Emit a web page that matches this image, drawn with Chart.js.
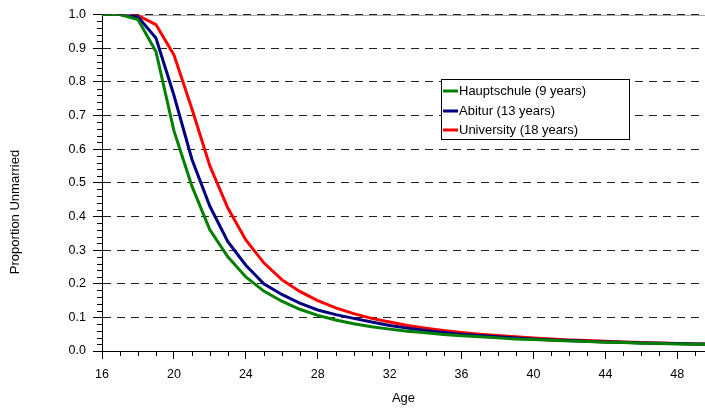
<!DOCTYPE html>
<html>
<head>
<meta charset="utf-8">
<script src="https://cdn.jsdelivr.net/npm/chart.js@4/dist/chart.umd.min.js"></script>
<style>
  html, body { margin: 0; padding: 0; background: #ffffff; }
  canvas { display: block; }
</style>
</head>
<body>
<canvas id="c" width="705" height="409"></canvas>
<script>
// ---- Data ----
const ages = [16,17,18,19,20,21,22,23,24,25,26,27,28,29,30,31,32,33,34,35,36,37,38,39,40,41,42,43,44,45,46,47,48,49,50];
const hauptschule = [1.0,1.0,0.985,0.89,0.655,0.49,0.36,0.28,0.22,0.178,0.148,0.124,0.106,0.092,0.081,0.072,0.065,0.059,0.054,0.049,0.045,0.042,0.039,0.036,0.034,0.032,0.030,0.028,0.026,0.025,0.023,0.022,0.021,0.020,0.019];
const abitur = [1.0,1.0,0.993,0.93,0.76,0.57,0.43,0.325,0.255,0.200,0.168,0.142,0.122,0.108,0.097,0.086,0.076,0.068,0.061,0.055,0.050,0.046,0.042,0.039,0.036,0.033,0.031,0.029,0.027,0.026,0.024,0.023,0.022,0.021,0.020];
const university = [1.0,1.0,0.997,0.97,0.88,0.72,0.55,0.425,0.33,0.262,0.212,0.177,0.150,0.128,0.111,0.097,0.086,0.076,0.068,0.061,0.055,0.050,0.046,0.042,0.039,0.036,0.033,0.031,0.029,0.027,0.025,0.024,0.022,0.021,0.020];
const seriesNames = ['Hauptschule (9 years)', 'Abitur (13 years)', 'University (18 years)'];
const seriesColors = ['#008000', '#000080', '#ff0000'];
const xTickValues = [16,20,24,28,32,36,40,44,48];
const yTickValues = [0.0,0.1,0.2,0.3,0.4,0.5,0.6,0.7,0.8,0.9,1.0];
const xTitle = 'Age';
const yTitle = 'Proportion Unmarried';

const FONT = '"Liberation Sans", Arial, sans-serif';

function toPoints(vals) { return ages.map((a, i) => ({x: a, y: vals[i]})); }

const extras = {
  id: 'extras',
  beforeDraw(chart) {
    const {ctx, chartArea} = chart;
    // light solid line under the top dashed gridline
    const y1 = chart.scales.y.getPixelForValue(1.0);
    ctx.save();
    ctx.strokeStyle = '#a8a8a8';
    ctx.lineWidth = 1;
    ctx.beginPath();
    ctx.moveTo(chartArea.left, Math.round(y1) + 0.5);
    ctx.lineTo(chartArea.right, Math.round(y1) + 0.5);
    ctx.stroke();
    ctx.restore();
  },
  afterDraw(chart) {
    const {ctx, chartArea} = chart;
    const xs = chart.scales.x, ys = chart.scales.y;
    ctx.save();
    ctx.strokeStyle = '#000';
    ctx.lineWidth = 1;
    // minor y ticks every 0.02
    for (let k = 0; k <= 50; k++) {
      if (k % 5 === 0) continue;
      const py = Math.round(ys.getPixelForValue(k / 50)) + 0.5;
      ctx.beginPath();
      ctx.moveTo(chartArea.left - 5, py);
      ctx.lineTo(chartArea.left, py);
      ctx.stroke();
    }
    // minor x ticks every year
    for (let a = 17; a <= 49; a++) {
      if (a % 4 === 0) continue;
      const px = Math.round(xs.getPixelForValue(a)) + 0.5;
      ctx.beginPath();
      ctx.moveTo(px, chartArea.bottom);
      ctx.lineTo(px, chartArea.bottom + 5);
      ctx.stroke();
    }
    // axis titles
    ctx.fillStyle = '#000';
    ctx.font = '13px ' + FONT;
    ctx.textAlign = 'center';
    ctx.textBaseline = 'middle';
    ctx.fillText(xTitle, (chartArea.left + chartArea.right) / 2, 398);
    ctx.save();
    ctx.translate(15, 212);
    ctx.rotate(-Math.PI / 2);
    ctx.fillText(yTitle, 0, 0);
    ctx.restore();
    // legend
    const bx = 441.5, by = 79.5, bw = 188, bh = 60;
    ctx.fillStyle = '#fff';
    ctx.fillRect(bx, by, bw, bh);
    ctx.strokeStyle = '#000';
    ctx.lineWidth = 1;
    ctx.strokeRect(bx, by, bw, bh);
    const rows = [91, 111, 130];
    ctx.textAlign = 'left';
    ctx.font = '13px ' + FONT;
    for (let i = 0; i < seriesNames.length; i++) {
      ctx.strokeStyle = seriesColors[i];
      ctx.lineWidth = 3;
      ctx.beginPath();
      ctx.moveTo(443, rows[i]);
      ctx.lineTo(458, rows[i]);
      ctx.stroke();
      ctx.fillStyle = '#000';
      ctx.fillText(seriesNames[i], 459, rows[i]);
    }
    ctx.restore();
  }
};

new Chart(document.getElementById('c'), {
  type: 'line',
  data: {
    datasets: [
      {label: seriesNames[0], data: toPoints(hauptschule), borderColor: seriesColors[0], borderWidth: 3, pointRadius: 0, fill: false, tension: 0},
      {label: seriesNames[1], data: toPoints(abitur), borderColor: seriesColors[1], borderWidth: 3, pointRadius: 0, fill: false, tension: 0},
      {label: seriesNames[2], data: toPoints(university), borderColor: seriesColors[2], borderWidth: 3, pointRadius: 0, fill: false, tension: 0}
    ]
  },
  options: {
    responsive: false,
    animation: false,
    devicePixelRatio: 1,
    layout: {padding: {top: 14, left: 0, right: 0, bottom: 0}},
    plugins: {legend: {display: false}, tooltip: {enabled: false}, title: {display: false}},
    scales: {
      x: {
        type: 'linear',
        min: 16,
        max: 49.54,
        afterFit(s) { s.height = 58; },
        afterBuildTicks(s) { s.ticks = xTickValues.map(v => ({value: v})); },
        ticks: {
          includeBounds: false,
          autoSkip: false,
          maxRotation: 0,
          padding: 8,
          color: '#000',
          font: {family: FONT, size: 12.5},
          callback: (v) => String(v)
        },
        grid: {drawOnChartArea: false, drawTicks: true, tickLength: 8, color: '#000', tickColor: '#000'},
        border: {display: true, color: '#000', width: 1}
      },
      y: {
        type: 'linear',
        min: 0,
        max: 1,
        afterFit(s) { s.width = 102; },
        afterBuildTicks(s) { s.ticks = yTickValues.map(v => ({value: v})); },
        ticks: {
          autoSkip: false,
          padding: 7,
          color: '#000',
          font: {family: FONT, size: 12.5},
          callback: (v) => Number(v).toFixed(1)
        },
        grid: {drawOnChartArea: true, drawTicks: true, tickLength: 9, color: '#222', tickColor: '#000', lineWidth: 1},
        border: {display: true, color: '#000', width: 1, dash: [8, 6]}
      }
    }
  },
  plugins: [extras]
});
</script>
</body>
</html>
